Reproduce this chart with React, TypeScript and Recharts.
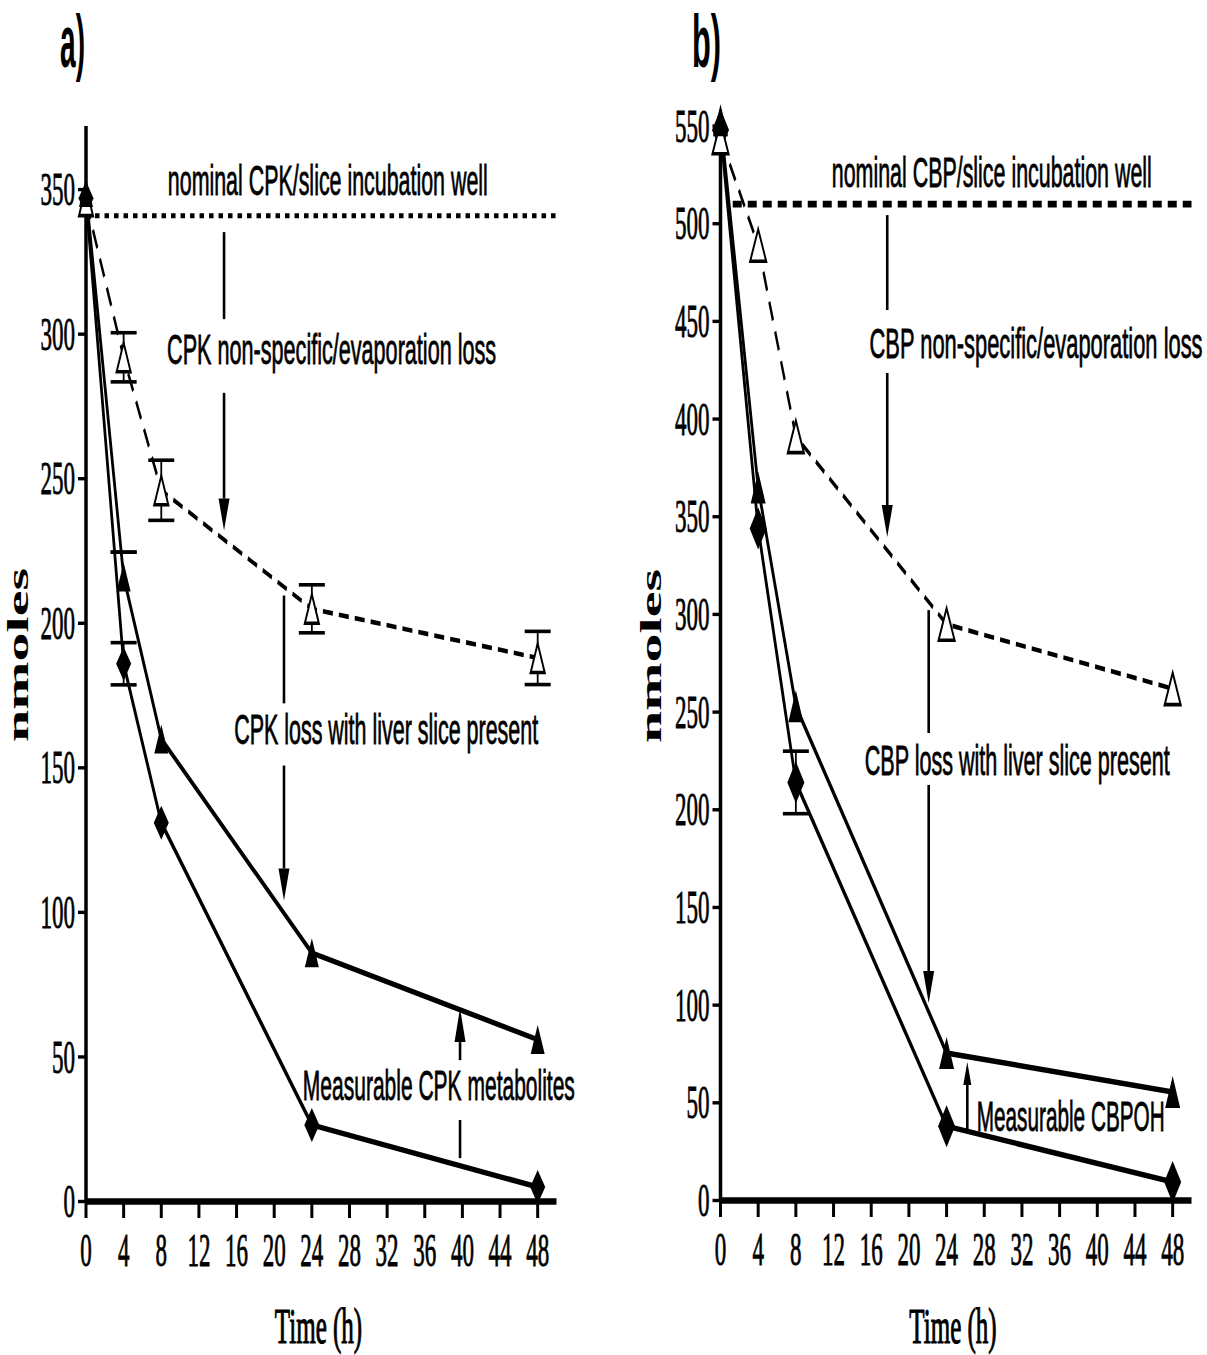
import React from 'react';
import { LineChart, Line, XAxis, YAxis, ErrorBar, ReferenceLine, ReferenceDot } from 'recharts';

// ---------- data ----------
const hours = [0, 4, 8, 24, 48];
const xTicks = [0, 4, 8, 12, 16, 20, 24, 28, 32, 36, 40, 44, 48];

// Panel a) CPK
const cpkNoSlice = [346, 292, 246, 205, 188];
const cpkNoSliceErr = [null, 8.5, 10.4, 8.3, 9.2];
const cpkWithSlice = [349, 216, 160, 86, 56];
const cpkWithSliceErr = [null, [-8.6, 8.6], null, null, null];
const cpkParent = [347, 186, 131, 26.5, 5];
const cpkParentErr = [null, 7.3, null, null, null];
const cpkNominal = 341;
const yTicksA = [0, 50, 100, 150, 200, 250, 300, 350];

// Panel b) CBP
const cbpNoSlice = [544, 489, 391, 295, 262];
const cbpNoSliceErr = [null, null, null, null, null];
const cbpWithSlice = [553, 365, 253, 75.5, 55.5];
const cbpWithSliceErr = [null, null, null, null, null];
const cbpParent = [548, 344, 214, 38, 9.5];
const cbpParentErr = [null, null, 16, null, null];
const cbpNominal = 510;
const yTicksB = [0, 50, 100, 150, 200, 250, 300, 350, 400, 450, 500, 550];

// annotation texts (data coordinates: t = hours, v = nmoles baseline)
const notesA = [
  { text: 'nominal CPK/slice incubation well', t: 25.7, v: 348.1, len: 320, anchor: 'middle' },
  { text: 'CPK non-specific/evaporation loss', t: 26.1, v: 289.8, len: 329, anchor: 'middle' },
  { text: 'CPK loss with liver slice present', t: 31.9, v: 158.1, len: 304, anchor: 'middle' },
  { text: 'Measurable CPK metabolites', t: 37.5, v: 35.1, len: 272, anchor: 'middle' },
];
const notesB = [
  { text: 'nominal CBP/slice incubation well', t: 28.8, v: 518.8, len: 320, anchor: 'middle' },
  { text: 'CBP non-specific/evaporation loss', t: 33.5, v: 431.3, len: 333, anchor: 'middle' },
  { text: 'CBP loss with liver slice present', t: 31.5, v: 217.8, len: 305, anchor: 'middle' },
  { text: 'Measurable CBPOH', t: 27.2, v: 35.6, len: 188, anchor: 'start' },
];
const arrowsA = [
  { t: 14.67, from: 335.3, to: 305.2, head: 0 },
  { t: 14.67, from: 279.7, to: 232.1, head: 16 },
  { t: 21.04, from: 209.6, to: 172.3, head: 0 },
  { t: 21.04, from: 150.8, to: 104.1, head: 16 },
  { t: 39.75, from: 48.9, to: 66.9, head: 17 },
  { t: 39.75, from: 28.2, to: 15.0, head: 0 },
];
const arrowsB = [
  { t: 17.7, from: 504.4, to: 455.8, head: 0 },
  { t: 17.7, from: 423.6, to: 339.6, head: 16 },
  { t: 22.1, from: 302.2, to: 239.3, head: 0 },
  { t: 22.1, from: 212.7, to: 101.1, head: 16 },
  { t: 26.2, from: 36.1, to: 70.9, head: 11.5 },
];

const buildData = (open: number[], openErr: any[], filled: number[], filledErr: any[], dia: number[], diaErr: any[]) =>
  hours.map((t, i) => ({
    t,
    open: open[i],
    openErr: openErr[i],
    filled: filled[i],
    filledErr: filledErr[i],
    dia: dia[i],
    diaErr: diaErr[i],
  }));

const dataA = buildData(cpkNoSlice, cpkNoSliceErr, cpkWithSlice, cpkWithSliceErr, cpkParent, cpkParentErr);
const dataB = buildData(cbpNoSlice, cbpNoSliceErr, cbpWithSlice, cbpWithSliceErr, cbpParent, cbpParentErr);

// ---------- styles ----------
const SERIF = "'Liberation Serif', 'Times New Roman', Times, serif";
const SANS = "'Liberation Sans', Arial, Helvetica, sans-serif";
const K = 2; // vertical stretch of the figure

const YTick = (props: any) => (
  <text x={props.x} y={props.y} dy={7.8} textAnchor="end" fontFamily={SERIF} fontSize={23} fill="#000" stroke="#000" strokeWidth={0.45}>
    {props.payload.value}
  </text>
);
const XTick = (props: any) => (
  <text x={props.x} y={props.y} dy={22} textAnchor="middle" fontFamily={SERIF} fontSize={23} fill="#000" stroke="#000" strokeWidth={0.45}>
    {props.payload.value}
  </text>
);

const triPath = (cx: number, cy: number, w: number, h: number) =>
  `M${cx},${cy - h / 2} L${cx + w / 2},${cy + h / 2} L${cx - w / 2},${cy + h / 2} Z`;
const diaPath = (cx: number, cy: number, w: number, h: number) =>
  `M${cx},${cy - h / 2} L${cx + w / 2},${cy} L${cx},${cy + h / 2} L${cx - w / 2},${cy} Z`;

const mkDot = (kind: string, w: number, h: number) => (p: any) => {
  const { cx, cy, index } = p;
  if (cx == null || cy == null) return <g key={`d${index}`} />;
  if (kind === 'dia') return <path key={`d${index}`} d={diaPath(cx, cy, w, h)} fill="#000" />;
  if (kind === 'filled') return <path key={`d${index}`} d={triPath(cx, cy, w, h)} fill="#000" />;
  return (
    <path key={`d${index}`} d={triPath(cx, cy, w, h)} fill="#fff" stroke="#000" strokeWidth={1.8} />
  );
};

const textShape = (text: string, len: number, anchor: any) => (p: any) => (
  <text
    x={p.cx}
    y={p.cy}
    textAnchor={anchor}
    fontFamily={SANS}
    fontSize={21}
    textLength={len}
    lengthAdjust="spacingAndGlyphs"
    fill="#000"
    stroke="#000"
    strokeWidth={0.4}
  >
    {text}
  </text>
);

const arrowShape = (hl: number) => (p: any) => {
  const { x1, y1, x2, y2 } = p;
  if (!hl) return <line x1={x1} y1={y1} x2={x2} y2={y2} stroke="#000" strokeWidth={2.6} />;
  const dir = y2 > y1 ? 1 : -1;
  const by = y2 - dir * hl;
  const hw = hl > 12 ? 11 : 8;
  return (
    <g>
      <line x1={x1} y1={y1} x2={x2} y2={by} stroke="#000" strokeWidth={2.6} />
      <path d={`M${x2 - hw / 2},${by} L${x2 + hw / 2},${by} L${x2},${y2} Z`} fill="#000" />
    </g>
  );
};

type PanelCfg = {
  data: any[];
  width: number;
  left: number;
  yAxisWidth: number;
  marginTop: number;
  marginRight: number;
  xAxisHeight: number;
  yMax: number;
  yTicks: number[];
  nominal: number;
  nominalStart: number;
  nominalDash: string;
  nominalWidth: number;
  notes: any[];
  arrows: any[];
  triW: number;
  triH: number;
  openW: number;
  openH: number;
  diaW: number;
  diaH: number;
  yLabelX: number;
  yLabelY: number;
  xLabelX: number;
};

function Panel(c: PanelCfg) {
  return (
    <div style={{ position: 'absolute', left: c.left, top: 0 }}>
      <LineChart
        width={c.width}
        height={1355 / K}
        data={c.data}
        margin={{ top: c.marginTop, right: c.marginRight, bottom: 0, left: 0 }}
      >
        <XAxis
          type="number"
          dataKey="t"
          domain={[0, 50]}
          ticks={xTicks}
          interval={0}
          height={c.xAxisHeight}
          tickSize={8.25}
          tickMargin={2}
          axisLine={{ stroke: '#000', strokeWidth: 3.3 }}
          tickLine={{ stroke: '#000', strokeWidth: 3 }}
          tick={XTick}
          label={(p: any) => (
            <text x={c.xLabelX} y={671.5} textAnchor="middle" fontFamily={SERIF} fontSize={25} fill="#000" stroke="#000" strokeWidth={0.6}>
              Time (h)
            </text>
          )}
        />
        <YAxis
          type="number"
          domain={[0, c.yMax]}
          ticks={c.yTicks}
          interval={0}
          width={c.yAxisWidth}
          tickSize={8}
          tickMargin={3}
          axisLine={{ stroke: '#000', strokeWidth: 3.5 }}
          tickLine={{ stroke: '#000', strokeWidth: 1.7 }}
          tick={YTick}
          label={(p: any) => (
            <text
              x={c.yLabelX}
              y={c.yLabelY}
              transform={`rotate(-90 ${c.yLabelX} ${c.yLabelY})`}
              textAnchor="middle"
              fontFamily={SERIF}
              fontWeight="bold"
              fontSize={29}
              fill="#000"
            >
              nmoles
            </text>
          )}
        />
        <ReferenceLine
          segment={[
            { x: c.nominalStart, y: c.nominal },
            { x: 50, y: c.nominal },
          ]}
          stroke="#000"
          strokeWidth={c.nominalWidth}
          strokeDasharray={c.nominalDash}
        />
        {c.arrows.map((a, i) => (
          <ReferenceLine
            key={`ar${i}`}
            segment={[
              { x: a.t, y: a.from },
              { x: a.t, y: a.to },
            ]}
            stroke="#000"
            shape={arrowShape(a.head)}
          />
        ))}
        {c.notes.map((n, i) => (
          <ReferenceDot key={`nt${i}`} x={n.t} y={n.v} r={0} shape={textShape(n.text, n.len, n.anchor)} />
        ))}
        <Line
          dataKey="dia"
          stroke="#000"
          strokeWidth={2.75}
          dot={mkDot('dia', c.diaW, c.diaH)}
          activeDot={false}
          isAnimationActive={false}
        >
          <ErrorBar dataKey="diaErr" direction="y" width={13} stroke="#000" strokeWidth={1.8} />
        </Line>
        <Line
          dataKey="open"
          stroke="#000"
          strokeWidth={2.3}
          strokeDasharray="10 6"
          dot={mkDot('open', c.openW, c.openH)}
          activeDot={false}
          isAnimationActive={false}
        >
          <ErrorBar dataKey="openErr" direction="y" width={13} stroke="#000" strokeWidth={1.8} />
        </Line>
        <Line
          dataKey="filled"
          stroke="#000"
          strokeWidth={2.75}
          dot={mkDot('filled', c.triW, c.triH)}
          activeDot={false}
          isAnimationActive={false}
        >
          <ErrorBar dataKey="filledErr" direction="y" width={13} stroke="#000" strokeWidth={1.8} />
        </Line>
      </LineChart>
    </div>
  );
}

export default function App() {
  return (
    <div
      style={{
        position: 'absolute',
        left: 0,
        top: 0,
        width: 1207,
        height: 1355 / K,
        transform: `scaleY(${K})`,
        transformOrigin: '0 0',
        background: '#fff',
        overflow: 'hidden',
      }}
    >
      <Panel
        data={dataA}
        width={600}
        left={0}
        yAxisWidth={86}
        marginTop={63}
        marginRight={43.5}
        xAxisHeight={76.75}
        yMax={372}
        yTicks={yTicksA}
        nominal={cpkNominal}
        nominalStart={0.96}
        nominalDash="4.5 5"
        nominalWidth={2.5}
        notes={notesA}
        arrows={arrowsA}
        triW={14}
        triH={14.5}
        openW={14}
        openH={14.5}
        diaW={15}
        diaH={17}
        yLabelX={28}
        yLabelY={327.5}
        xLabelX={318.5}
      />
      <Panel
        data={dataB}
        width={607}
        left={600}
        yAxisWidth={120.5}
        marginTop={57.15}
        marginRight={15.5}
        xAxisHeight={77.25}
        yMax={556}
        yTicks={yTicksB}
        nominal={cbpNominal}
        nominalStart={1.3}
        nominalDash="9 6"
        nominalWidth={3.3}
        notes={notesB}
        arrows={arrowsB}
        triW={15}
        triH={16}
        openW={16}
        openH={16}
        diaW={17}
        diaH={21}
        yLabelX={61}
        yLabelY={328}
        xLabelX={353}
      />
      <svg width={1207} height={1355 / K} style={{ position: 'absolute', left: 0, top: 0, pointerEvents: 'none' }}>
        <text x={60} y={33.5} fontFamily={SANS} fontWeight="bold" fontSize={37} textLength={25} lengthAdjust="spacingAndGlyphs" fill="#000">
          a)
        </text>
        <text x={692} y={33.5} fontFamily={SANS} fontWeight="bold" fontSize={37} textLength={29} lengthAdjust="spacingAndGlyphs" fill="#000">
          b)
        </text>
      </svg>
    </div>
  );
}
